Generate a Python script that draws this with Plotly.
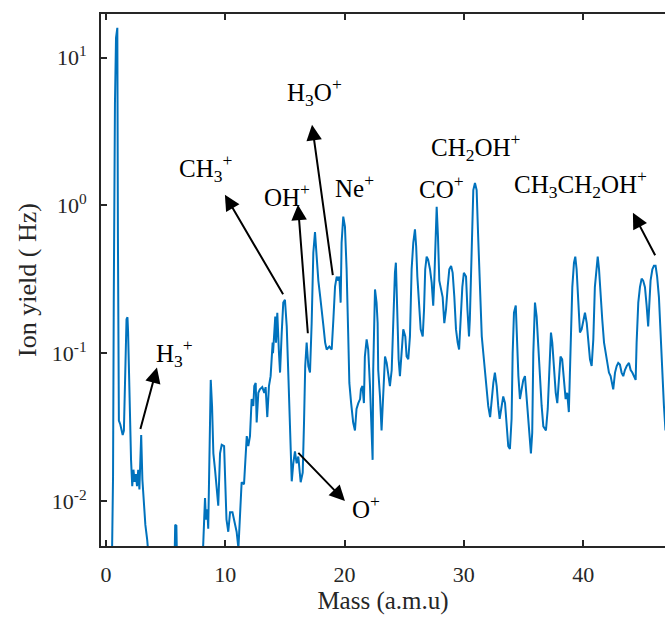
import plotly.graph_objects as go

# Mass (a.m.u) and ion yield (Hz)
mass = [0.48, 0.59, 0.65, 0.70, 0.75, 0.84, 0.95, 1.00, 1.08, 1.2, 1.4, 1.5, 1.6, 1.72, 1.8, 1.85, 1.93,
        2.0, 2.1, 2.2, 2.3, 2.4, 2.5, 2.6, 2.7, 2.8, 2.9, 2.95, 3.05, 3.15, 3.3, 3.45, 3.6,
        5.75, 5.8, 5.9, 5.95,
        8.1, 8.2, 8.3, 8.38, 8.49, 8.57, 8.66, 8.78, 8.89, 9.0, 9.14, 9.28, 9.41, 9.56, 9.7, 9.9,
        10.0, 10.1, 10.25, 10.4, 10.6, 10.75, 10.95, 11.1, 11.23, 11.37, 11.57, 11.71, 11.8, 11.93,
        12.07, 12.21, 12.35, 12.43, 12.55, 12.63, 12.77, 12.9, 13.1, 13.27, 13.38, 13.52, 13.66, 13.8,
        13.89, 13.97, 14.0, 14.19, 14.25, 14.36, 14.5, 14.59, 14.73, 14.86, 15.0, 15.15, 15.3, 15.45,
        15.57, 15.7, 15.84, 15.98, 16.12, 16.32, 16.49, 16.6, 16.7, 16.82, 16.96, 17.1, 17.16, 17.24,
        17.38, 17.52, 17.66, 17.8, 17.96, 18.1, 18.23, 18.37, 18.5, 18.72, 18.92, 19.06, 19.2, 19.34,
        19.47, 19.56, 19.67, 19.75, 19.89, 20.03, 20.17, 20.3, 20.4, 20.55, 20.72, 20.87, 21.0, 21.15,
        21.3, 21.37, 21.5, 21.62, 21.7, 21.85, 21.98, 22.13, 22.27, 22.35, 22.4, 22.55, 22.68, 22.77,
        22.82, 22.97, 23.1, 23.24, 23.39, 23.53, 23.66, 23.8, 23.95, 24.08, 24.22, 24.3, 24.42, 24.53,
        24.64, 24.78, 24.92, 25.09, 25.2, 25.34, 25.48, 25.62, 25.76, 25.9, 26.0, 26.1, 26.25, 26.38,
        26.55, 26.66, 26.76, 26.88, 27.0, 27.16, 27.3, 27.43, 27.52, 27.64, 27.72, 27.83, 27.94, 28.05,
        28.22, 28.36, 28.5, 28.64, 28.78, 28.93, 29.06, 29.2, 29.34, 29.48, 29.6, 29.73, 29.87, 30.0,
        30.18, 30.3, 30.43, 30.5, 30.65, 30.79, 30.93, 31.07, 31.2, 31.35, 31.5, 31.63, 31.77, 31.9,
        32.04, 32.2, 32.3, 32.47, 32.6, 32.75, 32.88, 33.0, 33.17, 33.3, 33.45, 33.6, 33.72, 33.86,
        34.0, 34.09, 34.2, 34.35, 34.43, 34.57, 34.7, 34.85, 34.98, 35.12, 35.26, 35.4, 35.54, 35.62,
        35.73, 35.82, 35.96, 36.1, 36.24, 36.38, 36.52, 36.66, 36.88, 37.03, 37.16, 37.3, 37.41, 37.55,
        37.7, 37.83, 37.97, 38.1, 38.24, 38.38, 38.53, 38.66, 38.8, 38.95, 39.09, 39.23, 39.34, 39.45,
        39.6, 39.73, 39.87, 40.0, 40.15, 40.3, 40.43, 40.57, 40.71, 40.85, 40.98, 41.13, 41.22, 41.33,
        41.47, 41.6, 41.75, 41.89, 42.02, 42.16, 42.3, 42.44, 42.52, 42.67, 42.81, 42.94, 43.08, 43.22,
        43.36, 43.5, 43.65, 43.84, 43.98, 44.12, 44.29, 44.4, 44.48, 44.62, 44.76, 44.9, 45.03, 45.18,
        45.32, 45.45, 45.54, 45.65, 45.8, 45.93, 46.07, 46.2, 46.35, 46.49, 46.63, 46.77, 46.9]

ion_yield = [0.003, 0.0147, 0.22, 2.6, 4.9, 13.6, 15.9, 0.6, 0.035, 0.033, 0.028, 0.030, 0.075, 0.17, 0.175, 0.14, 0.074,
             0.036, 0.019, 0.0126, 0.0163, 0.0135, 0.0152, 0.0126, 0.0163, 0.012, 0.0207, 0.028, 0.014, 0.0103, 0.0069, 0.0055, 0.004,
             0.004, 0.0069, 0.0068, 0.004,
             0.004, 0.0075, 0.0105, 0.0075, 0.0088, 0.0065, 0.021, 0.066, 0.044, 0.021, 0.0163, 0.0115, 0.0093, 0.021, 0.024, 0.0235,
             0.014, 0.0075, 0.0062, 0.0084, 0.0084, 0.0075, 0.0062, 0.0048, 0.0088, 0.0134, 0.013, 0.021, 0.0275, 0.0235,
             0.0275, 0.049, 0.044, 0.060, 0.063, 0.034, 0.054, 0.057, 0.059, 0.054, 0.059, 0.037, 0.060, 0.070,
             0.10, 0.118, 0.10, 0.177, 0.118, 0.188, 0.10, 0.074, 0.138, 0.22, 0.23, 0.152, 0.066, 0.030,
             0.0136, 0.018, 0.0217, 0.018, 0.020, 0.0134, 0.0156, 0.034, 0.082, 0.118, 0.082, 0.074, 0.13, 0.16,
             0.48, 0.66, 0.45, 0.31, 0.24, 0.197, 0.152, 0.118, 0.106, 0.111, 0.106, 0.169, 0.282, 0.33,
             0.31, 0.33, 0.22, 0.56, 0.84, 0.72, 0.37, 0.138, 0.063, 0.046, 0.034, 0.030, 0.042, 0.046,
             0.049, 0.057, 0.060, 0.046, 0.095, 0.124, 0.106, 0.060, 0.025, 0.019, 0.077, 0.27, 0.22, 0.16,
             0.077, 0.051, 0.030, 0.051, 0.095, 0.086, 0.070, 0.060, 0.077, 0.169, 0.35, 0.41, 0.16, 0.091,
             0.070, 0.106, 0.145, 0.13, 0.095, 0.091, 0.13, 0.37, 0.56, 0.69, 0.53, 0.33, 0.22, 0.145,
             0.13, 0.197, 0.37, 0.45, 0.43, 0.37, 0.30, 0.21, 0.31, 0.69, 0.98, 0.61, 0.31, 0.28,
             0.24, 0.16, 0.197, 0.28, 0.37, 0.39, 0.35, 0.24, 0.145, 0.118, 0.106, 0.169, 0.28, 0.35,
             0.33, 0.197, 0.13, 0.169, 0.61, 1.27, 1.42, 1.27, 0.61, 0.23, 0.13, 0.10, 0.074, 0.057,
             0.044, 0.037, 0.046, 0.063, 0.074, 0.060, 0.044, 0.036, 0.044, 0.051, 0.046, 0.032, 0.0235, 0.0225,
             0.036, 0.10, 0.188, 0.21, 0.124, 0.070, 0.049, 0.057, 0.066, 0.070, 0.051, 0.037, 0.026, 0.021,
             0.029, 0.10, 0.22, 0.177, 0.111, 0.066, 0.044, 0.032, 0.030, 0.042, 0.086, 0.138, 0.118, 0.077,
             0.054, 0.046, 0.070, 0.095, 0.091, 0.070, 0.049, 0.054, 0.040, 0.111, 0.28, 0.41, 0.45, 0.37,
             0.197, 0.138, 0.145, 0.169, 0.188, 0.16, 0.124, 0.091, 0.082, 0.124, 0.28, 0.39, 0.45, 0.37,
             0.23, 0.169, 0.118, 0.10, 0.086, 0.074, 0.070, 0.060, 0.057, 0.074, 0.082, 0.086, 0.084, 0.074,
             0.070, 0.077, 0.082, 0.086, 0.077, 0.074, 0.070, 0.066, 0.118, 0.22, 0.28, 0.32, 0.31, 0.28,
             0.21, 0.152, 0.21, 0.31, 0.37, 0.39, 0.39, 0.33, 0.24, 0.13, 0.077, 0.044, 0.03]

x_ticks = [0, 10, 20, 30, 40]
y_tickvals = [0.01, 0.1, 1, 10]
y_ticktext = ["10<sup>-2</sup>", "10<sup>-1</sup>", "10<sup>0</sup>", "10<sup>1</sup>"]

# Peak labels: (text, left x in amu, log10 y)
labels = [
    ("H<sub>3</sub><sup>+</sup>", 4.02, -0.995),
    ("CH<sub>3</sub><sup>+</sup>", 5.95, 0.255),
    ("OH<sup>+</sup>", 13.08, 0.072),
    ("H<sub>3</sub>O<sup>+</sup>", 15.0, 0.767),
    ("Ne<sup>+</sup>", 19.03, 0.132),
    ("CO<sup>+</sup>", 26.07, 0.125),
    ("CH<sub>2</sub>OH<sup>+</sup>", 27.07, 0.397),
    ("CH<sub>3</sub>CH<sub>2</sub>OH<sup>+</sup>", 34.03, 0.147),
    ("O<sup>+</sup>", 20.45, -2.04),
]
# Arrows: head (x, log10 y), tail (x, log10 y)
arrows = [
    (4.27, -1.097, 2.85, -1.523),
    (9.97, 0.072, 14.92, -0.611),
    (16.09, 0.005, 16.93, -0.875),
    (17.27, 0.545, 19.03, -0.482),
    (20.03, -2.0, 16.0, -1.664),
    (44.17, -0.05, 46.1, -0.347),
]

FONT = "Liberation Serif, Times New Roman, serif"
AXC = "#262626"

fig = go.Figure()
fig.add_trace(go.Scatter(x=mass, y=ion_yield, mode="lines",
                         line=dict(color="#0072BD", width=2), showlegend=False))

annotations = []
for txt, xl, yl in labels:
    annotations.append(dict(text=txt, x=xl, y=yl, xref="x", yref="y", showarrow=False,
                            xanchor="left", yanchor="middle",
                            font=dict(family=FONT, size=25, color="black")))
for hx, hy, tx, ty in arrows:
    annotations.append(dict(text="", x=hx, y=hy, ax=tx, ay=ty, xref="x", yref="y",
                            axref="x", ayref="y", showarrow=True, arrowhead=2,
                            arrowsize=1.55, arrowwidth=2, arrowcolor="black", standoff=0))

fig.update_layout(
    width=665, height=618,
    margin=dict(l=101, r=0, t=14, b=72),
    paper_bgcolor="white", plot_bgcolor="white",
    font=dict(family=FONT, size=22, color=AXC),
    annotations=annotations,
    xaxis=dict(range=[-0.419, 46.86], tickvals=x_ticks, ticks="inside", ticklen=6,
               tickwidth=1.5, tickcolor=AXC, showline=True, linecolor=AXC, linewidth=2,
               mirror="ticks", showgrid=False, zeroline=False,
               title=dict(text="Mass (a.m.u)", font=dict(size=25, family=FONT, color=AXC), standoff=2),
               tickfont=dict(size=22, family=FONT, color=AXC), ticklabelstandoff=8),
    yaxis=dict(type="log", range=[-2.304, 1.295], tickvals=y_tickvals, ticktext=y_ticktext,
               ticks="inside", ticklen=6, tickwidth=1.5, tickcolor=AXC, showline=True,
               linecolor=AXC, linewidth=2, mirror=False, showgrid=False, zeroline=False,
               title=dict(text="Ion yield ( Hz)", font=dict(size=26, family=FONT, color=AXC), standoff=8),
               tickfont=dict(size=22, family=FONT, color=AXC), ticklabelstandoff=8),
)

fig.write_html("out.html")
